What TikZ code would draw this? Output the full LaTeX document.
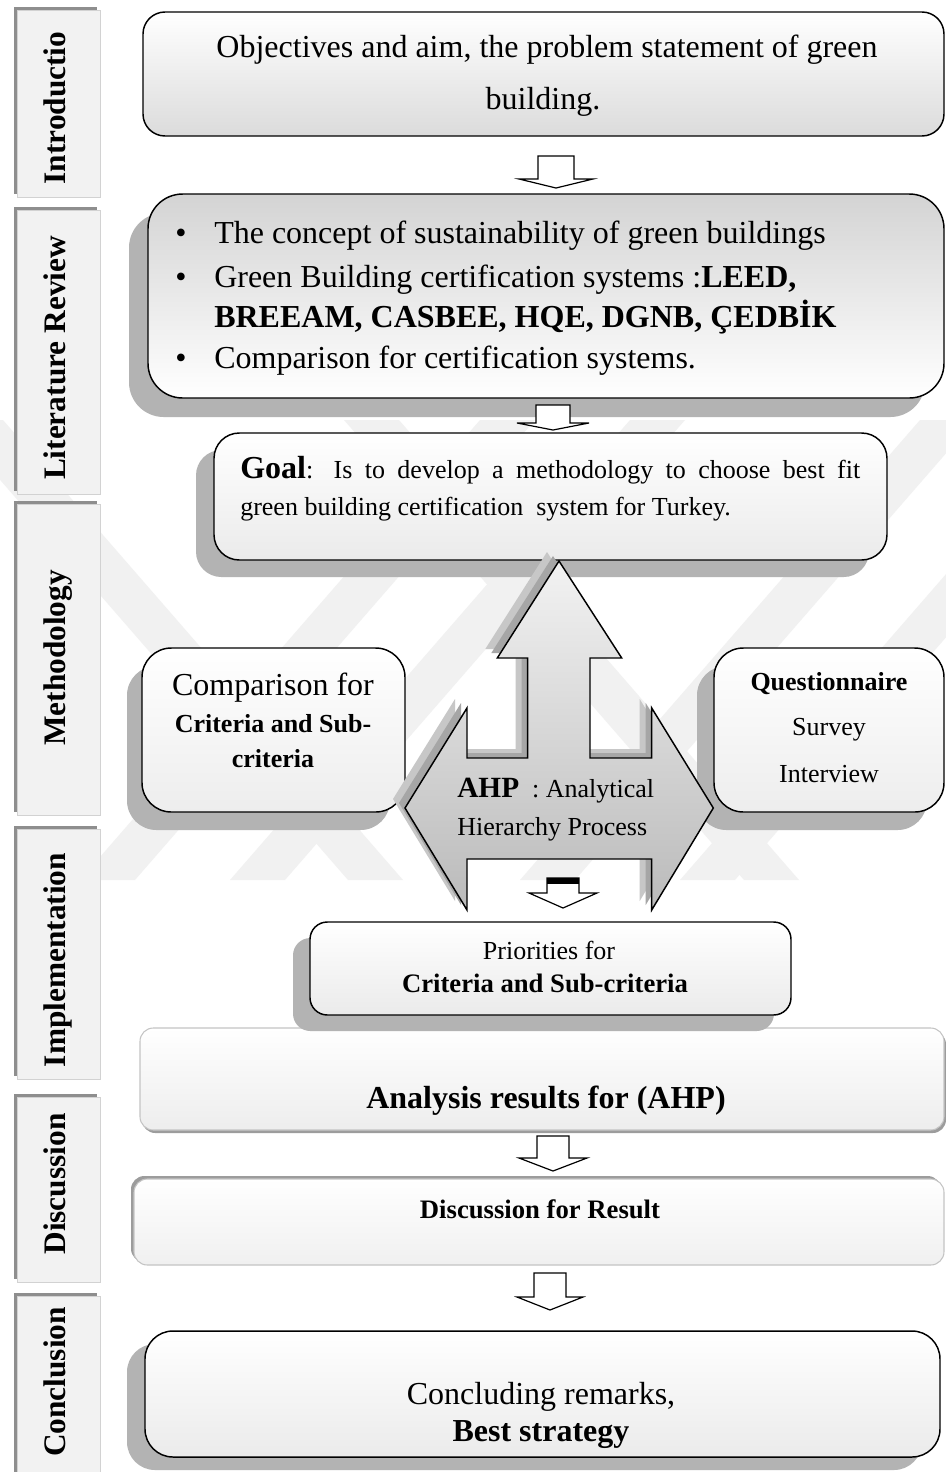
\documentclass[tikz,border=0pt]{standalone}
\usepackage{fontspec}
\setmainfont{Liberation Serif}
\usetikzlibrary{fit}

\definecolor{tabfill}{HTML}{F2F2F2}
\definecolor{tabedge}{HTML}{D2D2D2}
\definecolor{tabshade}{HTML}{8E8E8E}
\definecolor{boxshade}{HTML}{B3B3B3}
\definecolor{paleedge}{HTML}{C4C4C4}
\definecolor{paleshade}{HTML}{9C9C9C}
\definecolor{markgray}{HTML}{F1F1F1}

\newcommand{\sizebig}{\fontsize{24}{29}\selectfont}
\newcommand{\sizemid}{\fontsize{19.5}{24}\selectfont}
\newcommand{\sizeahp}{\fontsize{22}{26}\selectfont}

\tikzset{
  hollowline/.style={draw=black, line width=0.9pt, fill=white, line join=miter},
  framed/.style={draw=black, line width=1.1pt, inner sep=0pt},
  paleframed/.style={draw=paleedge, line width=0.8pt, inner sep=0pt},
  tabbox/.style={draw=tabedge, line width=0.5pt, fill=tabfill, inner sep=0pt},
  tablabel/.style={rotate=90, anchor=base, inner sep=0pt, font=\bfseries\fontsize{23.5}{28}\selectfont},
  txt/.style={anchor=base, inner sep=0pt},
  txtleft/.style={anchor=base west, inner sep=0pt},
  pics/downarrow/.style n args={4}{code={
    \draw[hollowline] (-#3,0) -- (#3,0) -- (#3,#1) -- (#4,#1) -- (0,#2) -- (-#4,#1) -- (-#3,#1) -- cycle;
  }}
}

% section tab: name, top, bottom, label, label centre
\newcommand{\sectiontab}[5]{%
  \fill[tabshade] (14,#2) rectangle (97,{#3-3});
  \node[tabbox, fit={(17,{#2+3}) (100,#3)}] (#1) {};
  \node[tablabel] (#1-label) at (65,#5) {#4};
}
% faint background stripes: rising and falling bands
\newcommand{\risingband}[1]{\fill[markgray] (#1,880) -- ({#1+55},880) -- ({#1+455},420) -- ({#1+400},420) -- cycle;}
\newcommand{\fallingband}[1]{\fill[markgray] (#1,420) -- ({#1+55},420) -- ({#1+455},880) -- ({#1+400},880) -- cycle;}

\begin{document}
\begin{tikzpicture}[x=0.75pt,y=-0.75pt]
\useasboundingbox (0,0) rectangle (946,1472);
\fill[white] (0,0) rectangle (946,1472);

% ---- background emblem ----
\begin{scope}
  \clip (0,420) rectangle (946,880);
  \risingband{80}
  \risingband{230}
  \risingband{520}
  \risingband{680}
  \fallingband{-52}
  \fallingband{344}
\end{scope}

% ---- section tabs on the left ----
\sectiontab{tabintro}{7}{197}{Introductio}{108}
\sectiontab{tablit}{207}{494}{Literature Review}{358}
\sectiontab{tabmeth}{501}{815}{Methodology}{658}
\sectiontab{tabimpl}{826}{1079}{Implementation}{960}
\sectiontab{tabdisc}{1094}{1282}{Discussion}{1184}
\sectiontab{tabconc}{1293}{1480}{Conclusion}{1382}

% ---- introduction ----
\node[framed, rounded corners=16.5pt, top color=white, bottom color=black!14,
      fit={(143,12) (944,136)}] (intro) {};

% ---- literature review ----
\fill[boxshade, rounded corners=26pt] (129,213) rectangle (925,417);
\node[framed, rounded corners=26pt, top color=black!17, bottom color=white,
      fit={(148,194) (944,398)}] (lit) {};

\pic (arrA) at (556,156) {downarrow={23}{32}{18}{37}};
\pic (arrB) at (553,405) {downarrow={18}{25}{17}{36}};

% ---- goal ----
\fill[boxshade, rounded corners=19pt] (196,450) rectangle (869,577);
\node[framed, rounded corners=19pt, top color=white, bottom color=black!8,
      fit={(214,433) (887,560)}] (goal) {};

% ---- side boxes ----
\fill[boxshade, rounded corners=22pt] (127,666) rectangle (390,830);
\node[framed, rounded corners=22pt, top color=white, bottom color=black!7,
      fit={(142,648) (405,812)}] (comp) {};
\fill[boxshade, rounded corners=22pt] (697,666) rectangle (927,830);
\node[framed, rounded corners=22pt, top color=white, bottom color=black!7,
      fit={(714,648) (944,812)}] (quest) {};

% ---- AHP double-headed block ----
\coordinate (ahp) at (559,808);
\fill[black!22, shift={(-12,-9)}]
  (559,561) -- (621.7,658) -- (590,658) -- (590,758) -- (651.7,758) -- (651.7,708)
  -- (713.3,808) -- (651.7,910) -- (651.7,859) -- (467,859) -- (467,910) -- (405,808)
  -- (467,708) -- (467,758) -- (527.7,758) -- (527.7,658) -- (497.3,658) -- cycle;
\fill[black!35, shift={(-6,-5)}]
  (559,561) -- (621.7,658) -- (590,658) -- (590,758) -- (651.7,758) -- (651.7,708)
  -- (713.3,808) -- (651.7,910) -- (651.7,859) -- (467,859) -- (467,910) -- (405,808)
  -- (467,708) -- (467,758) -- (527.7,758) -- (527.7,658) -- (497.3,658) -- cycle;
\draw[line width=1.1pt, line join=miter, top color=black!5, bottom color=black!27]
  (559,561) -- (621.7,658) -- (590,658) -- (590,758) -- (651.7,758) -- (651.7,708)
  -- (713.3,808) -- (651.7,910) -- (651.7,859) -- (467,859) -- (467,910) -- (405,808)
  -- (467,708) -- (467,758) -- (527.7,758) -- (527.7,658) -- (497.3,658) -- cycle;

\pic (arrC) at (563,878) {downarrow={15}{30}{16}{34}};
\fill[black] (547,878) rectangle (579,884);

% ---- implementation ----
\fill[paleshade, rounded corners=10pt] (142,1031) rectangle (946,1133);
\node[paleframed, rounded corners=10pt, top color=white, bottom color=black!7,
      fit={(140,1028) (944,1130)}] (analysis) {};

\fill[boxshade, rounded corners=13pt] (293,938) rectangle (774,1031);
\node[framed, rounded corners=13pt, top color=white, bottom color=black!8,
      fit={(310,922) (791,1015)}] (prio) {};

% ---- discussion ----
\pic (arrD) at (553,1136) {downarrow={22}{35}{16}{34}};
\fill[paleshade, rounded corners=10pt] (131,1176) rectangle (941,1262);
\node[paleframed, rounded corners=10pt, top color=white, bottom color=black!6,
      fit={(134,1179) (944,1265)}] (disc) {};

% ---- conclusion ----
\pic (arrE) at (550,1273) {downarrow={24}{37}{16}{33}};
\fill[boxshade, rounded corners=21pt] (127,1344) rectangle (922,1470);
\node[framed, rounded corners=21pt, top color=white, bottom color=black!8,
      fit={(145,1331) (940,1457)}] (conc) {};

% ---- texts ----
\node[txt, font=\sizebig] (introA) at (547,57) {Objectives and aim, the problem statement of green};
\node[txt, font=\sizebig] (introB) at (543,109) {building.};

\node[txt, font=\sizebig] (bulA) at (181,243) {•};
\node[txtleft, font=\sizebig] (litA) at (214,243) {The concept of sustainability of green buildings};
\node[txt, font=\sizebig] (bulB) at (181,287) {•};
\node[txtleft, font=\sizebig] (litB) at (214,287) {Green Building certification systems :\textbf{LEED,}};
\node[txtleft, font=\sizebig\bfseries] (litC) at (214,327) {BREEAM, CASBEE, HQE, DGNB, ÇEDBİK};
\node[txt, font=\sizebig] (bulD) at (181,368) {•};
\node[txtleft, font=\sizebig] (litD) at (214,368) {Comparison for certification systems.};

\node[txtleft] (goalA) at (240,478) {\makebox[465pt][s]{{\sizebig\bfseries Goal}\sizemid: Is to develop a methodology to choose best fit}};
\node[txtleft, font=\sizemid] (goalB) at (240,515) {green building certification\ \ system for Turkey.};

\node[txt, font=\sizebig] (compA) at (273,695) {Comparison for};
\node[txt, font=\sizemid\bfseries] (compB) at (273,732) {Criteria and Sub-};
\node[txt, font=\sizemid\bfseries] (compC) at (273,767) {criteria};

\node[txt, font=\sizemid\bfseries] (questA) at (829,690) {Questionnaire};
\node[txt, font=\sizemid] (questB) at (829,735) {Survey};
\node[txt, font=\sizemid] (questC) at (829,782) {Interview};

\node[txtleft] (ahpA) at (457,797) {{\sizeahp\bfseries AHP}\sizemid\ \ :\ Analytical};
\node[txtleft, font=\sizemid] (ahpB) at (457,835) {Hierarchy Process};

\node[txt, font=\sizemid] (prioA) at (549,959) {Priorities for};
\node[txt, font=\fontsize{20}{24}\selectfont\bfseries] (prioB) at (545,992) {Criteria and Sub-criteria};

\node[txt, font=\sizebig\bfseries] (anaA) at (546,1108) {Analysis results for (AHP)};
\node[txt, font=\fontsize{20}{24}\selectfont\bfseries] (discA) at (540,1218) {Discussion for Result};

\node[txt, font=\sizebig] (concA) at (541,1404) {Concluding remarks,};
\node[txt, font=\sizebig\bfseries] (concB) at (541,1441) {Best strategy};
\end{tikzpicture}
\end{document}
